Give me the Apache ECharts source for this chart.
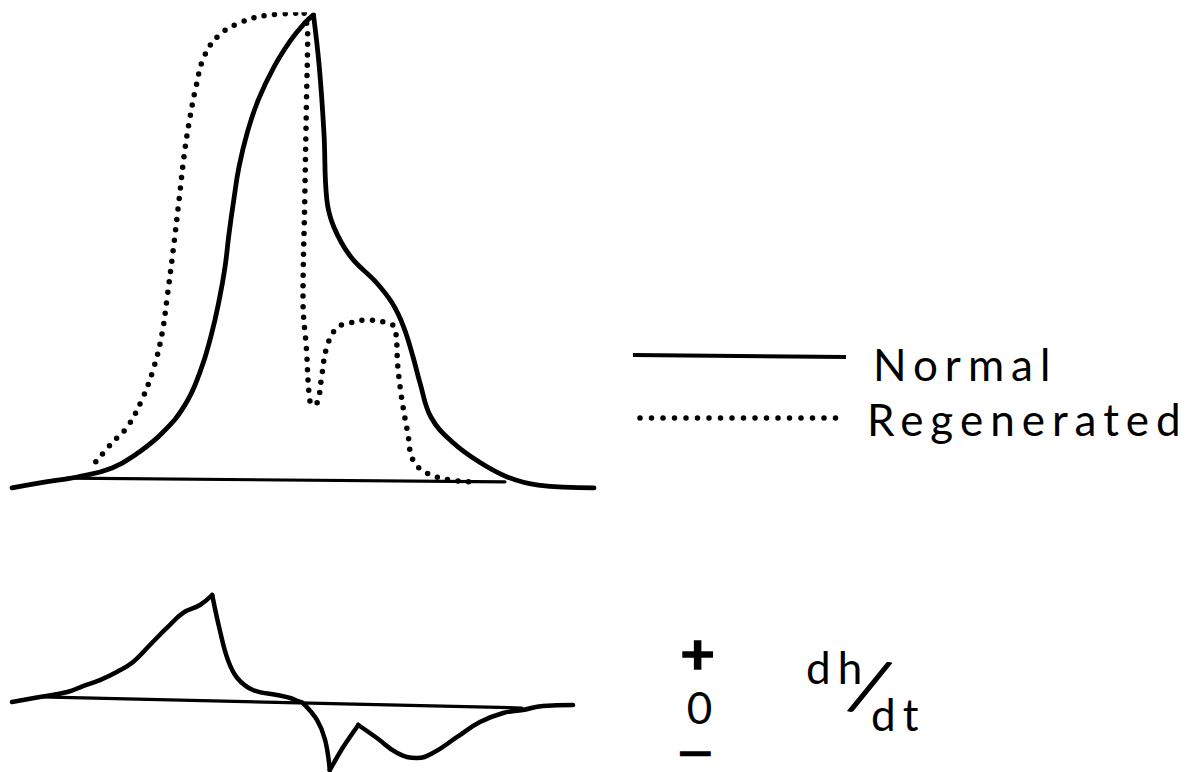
<!DOCTYPE html>
<html>
<head>
<meta charset="utf-8">
<script src="https://cdn.jsdelivr.net/npm/echarts@6/dist/echarts.min.js"></script>
<style>
html,body{margin:0;padding:0;background:#fff;}
#chart{width:1201px;height:772px;}
#chart text{letter-spacing:7px;}
</style>
</head>
<body>
<div id="chart"></div>
<script>
// ---- Top panel: height h(t), time t in arbitrary units 0..100, height in % of peak ----
const normalRise = [[0,-1.7],[4.8,-0.6],[11.2,0.65],[17.2,2.6],[21.6,5.8],[25.8,10.1],[29.7,16.1],[32.3,23.2],[34.2,31.0],[35.6,38.7],[36.6,45.8],[37.3,53.1],[38.1,60.2],[39.0,67.3],[40.4,74.6],[42.3,81.7],[45.0,88.8],[47.9,94.6],[50.3,98.3],[51.8,100]];
const normalFall = [[51.8,100],[52.8,88.8],[53.6,74.6],[54.1,60.2],[55.3,54.4],[58.2,48.0],[62.5,42.6],[65.3,38.1],[67.3,32.9],[68.9,26.5],[70.1,20.9],[72.0,13.5],[75.8,8.0],[80.5,3.7],[85.2,0.6],[90.4,-1.1],[100,-1.7]];
const regenRise = [[14.4,3.9],[17.2,8.0],[19.8,11.4],[22.3,17.2],[24.4,24.3],[25.8,31.6],[26.6,38.7],[27.7,49.5],[28.7,60.2],[29.7,71.0],[30.6,78.1],[31.6,84.5],[33.0,91.0],[35.6,95.7],[39.5,98.5],[44.2,100],[50.2,100.4]];
const regenFall = [[50.2,100.4],[50.8,96.3],[50.6,81.7],[50.3,60.2],[50.0,38.7],[50.6,28.0],[51.1,17.8],[51.6,16.1],[52.5,16.8],[53.2,22.2],[54.1,28.6],[55.8,32.7],[58.1,33.8],[61.2,34.4],[62.9,34.2],[64.4,33.8],[65.8,32.7],[66.3,24.3],[67.0,17.2],[68.0,10.1],[68.9,4.3],[71.3,1.5],[75.3,0],[78.7,-0.4]];
const topBaseline = [[9.5,0.4],[84.7,-0.4]];

// ---- Bottom panel: dh/dt ----
const rateRise = [[0,-1.9],[4.8,2.9],[9.5,7.6],[12.2,13.3],[15.1,19.0],[18.0,26.7],[20.8,36.2],[23.7,52.4],[26.6,68.6],[29.4,82.9],[32.3,90.5],[34.4,100]];
const rateDrop = [[34.4,100],[35.7,66.7],[37.1,38.1],[38.7,21.0],[41.4,9.5],[45.5,4.8],[47.8,1.9],[49.1,-1.0],[50.0,-2.9],[52.4,-19.0],[53.8,-38.1],[54.6,-66.7]];
const rateRebound = [[54.6,-66.7],[56.9,-44.8],[59.5,-23.8]];
const rateTail = [[59.5,-23.8],[62.7,-36.2],[66.2,-50.5],[69.6,-55.2],[72.3,-50.5],[76.5,-35.2],[80.4,-21.0],[84.4,-12.4],[87.8,-9.5],[91.2,-5.7],[96.4,-4.8]];
const bottomBaseline = [[4.8,2.9],[87.6,-7.6]];

// ---- Labels ----
const legendLabels = ['Normal', 'Regenerated'];
const signLabels = ['+', '0', '\u2212'];
const rateLabel = ['dh', '/', 'dt'];

const chart = echarts.init(document.getElementById('chart'), null, {renderer: 'svg'});
const FONT = 'Lato, "Open Sans", sans-serif';
const ink = '#000';

function solid(data, xi, w, smooth) {
  return {type:'line', xAxisIndex:xi, yAxisIndex:xi, data:data, showSymbol:false, symbol:'none',
    smooth: smooth, lineStyle:{color:ink, width:w, cap:'round', join:'round'}, silent:true, z:3};
}
function dotted(data, xi) {
  return {type:'line', xAxisIndex:xi, yAxisIndex:xi, data:data, showSymbol:false, symbol:'none',
    smooth:0.4, lineStyle:{color:ink, width:5.5, type:[0,10.5], cap:'round'}, silent:true, z:2};
}

const option = {
  animation:false,
  backgroundColor:'#fff',
  grid:[
    {left:12, top:15, width:582, height:474.3},
    {left:12, top:589.75, width:582, height:181.65}
  ],
  xAxis:[
    {type:'value', gridIndex:0, min:0, max:100, show:false},
    {type:'value', gridIndex:1, min:0, max:100, show:false}
  ],
  yAxis:[
    {type:'value', gridIndex:0, min:-2, max:100, show:false},
    {type:'value', gridIndex:1, min:-68, max:105, show:false}
  ],
  series:[
    solid(topBaseline, 0, 3.2, false),
    solid(normalRise, 0, 4.8, 0.45),
    solid(normalFall, 0, 4.8, 0.4),
    dotted(regenRise, 0),
    dotted(regenFall, 0),
    solid(bottomBaseline, 1, 3.2, false),
    solid(rateRise, 1, 4.5, 0.45),
    solid(rateDrop, 1, 4.5, 0.4),
    solid(rateRebound, 1, 4.5, 0.2),
    solid(rateTail, 1, 4.5, 0.45)
  ],
  graphic:[
    {type:'line', shape:{x1:633, y1:355, x2:846, y2:357}, style:{stroke:ink, lineWidth:4}},
    {type:'line', shape:{x1:640, y1:418, x2:847, y2:418}, style:{stroke:ink, lineWidth:5.5, lineDash:[0,11.5], lineCap:'round'}},
    {type:'text', x:873, y:364, style:{text:legendLabels[0], font:'44px '+FONT, fill:ink, textAlign:'left', textVerticalAlign:'middle'}},
    {type:'text', x:867, y:419, style:{text:legendLabels[1], font:'44px '+FONT, fill:ink, textAlign:'left', textVerticalAlign:'middle'}},
    {type:'text', x:703, y:652, scaleX:1.5, scaleY:1.4, style:{text:signLabels[0], font:'bold 40px '+FONT, fill:ink, stroke:ink, lineWidth:1, textAlign:'center', textVerticalAlign:'middle'}},
    {type:'text', x:703, y:707, style:{text:signLabels[1], font:'44px '+FONT, fill:ink, textAlign:'center', textVerticalAlign:'middle'}},
    {type:'text', x:703, y:753, scaleX:2.2, style:{text:signLabels[2], font:'bold 26px '+FONT, fill:ink, stroke:ink, lineWidth:2.5, textAlign:'center', textVerticalAlign:'middle'}},
    {type:'text', x:806, y:667, style:{text:rateLabel[0], font:'44px '+FONT, fill:ink, textAlign:'left', textVerticalAlign:'middle'}},
    {type:'text', x:874, y:685, rotation:-0.3, style:{text:rateLabel[1], font:'76px '+FONT, fill:ink, textAlign:'center', textVerticalAlign:'middle'}},
    {type:'text', x:871, y:714, style:{text:rateLabel[2], font:'44px '+FONT, fill:ink, textAlign:'left', textVerticalAlign:'middle'}}
  ]
};
chart.setOption(option);
</script>
</body>
</html>
